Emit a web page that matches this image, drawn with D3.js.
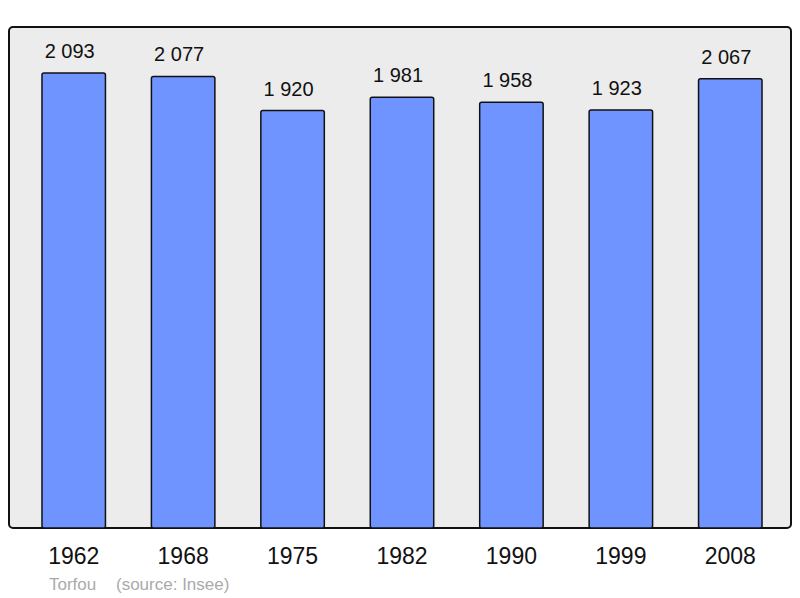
<!DOCTYPE html>
<html lang="fr">
<head>
    <meta charset="utf-8">
    <title>Torfou - population</title>
    <script src="https://d3js.org/d3.v7.min.js"></script>
    <style>
        body { margin: 0; background: #fff; }
        svg { display: block; font-family: "Liberation Sans", Arial, sans-serif; }
    </style>
</head>
<body>
<svg id="chart" width="800" height="598"></svg>
<script>
    // Population data (source: Insee)
    const years = ["1962", "1968", "1975", "1982", "1990", "1999", "2008"];
    const population = [2093, 2077, 1920, 1981, 1958, 1923, 2067];
    const commune = "Torfou";
    const source = "(source: Insee)";

    const svg = d3.select("#chart");

    const frame = { left: 9, top: 27, right: 791, bottom: 528 };

    // plot background
    svg.append("rect")
        .attr("x", frame.left)
        .attr("y", frame.top)
        .attr("width", frame.right - frame.left)
        .attr("height", frame.bottom - frame.top)
        .attr("rx", 4)
        .attr("fill", "#ececec")
        .attr("stroke", "#111")
        .attr("stroke-width", 2);

    const x = d3.scaleBand()
        .domain(years)
        .range([19, 785])
        .paddingInner(0.42)
        .paddingOuter(0.21);

    const y = d3.scaleLinear()
        .domain([0, 2300])
        .range([frame.bottom, frame.bottom - 500]);

    const data = years.map((yr, i) => ({ year: yr, value: population[i] }));

    svg.selectAll(".bar")
        .data(data)
        .enter().append("rect")
        .attr("class", "bar")
        .attr("x", d => x(d.year))
        .attr("y", d => y(d.value))
        .attr("width", x.bandwidth())
        .attr("height", d => y(0) - y(d.value))
        .attr("rx", 2)
        .attr("fill", "#7094ff")
        .attr("stroke", "#111")
        .attr("stroke-width", 1.5);

    // value labels
    const fmt = v => d3.format(",")(v).replace(",", " ");
    svg.selectAll(".val")
        .data(data)
        .enter().append("text")
        .attr("class", "val")
        .attr("x", d => x(d.year) + x.bandwidth() / 2 - 4)
        .attr("y", d => y(d.value) - 15)
        .attr("text-anchor", "middle")
        .attr("font-size", 20)
        .attr("fill", "#111")
        .text(d => fmt(d.value));

    // year labels
    svg.selectAll(".year")
        .data(data)
        .enter().append("text")
        .attr("class", "year")
        .attr("x", d => x(d.year) + x.bandwidth() / 2)
        .attr("y", 564)
        .attr("text-anchor", "middle")
        .attr("font-size", 23)
        .attr("fill", "#111")
        .text(d => d.year);

    // footer
    svg.append("text")
        .attr("x", 49)
        .attr("y", 590)
        .attr("font-size", 17)
        .attr("fill", "#aaaaaa")
        .text(commune);
    svg.append("text")
        .attr("x", 116)
        .attr("y", 590)
        .attr("font-size", 17)
        .attr("fill", "#aaaaaa")
        .text(source);
</script>
</body>
</html>
